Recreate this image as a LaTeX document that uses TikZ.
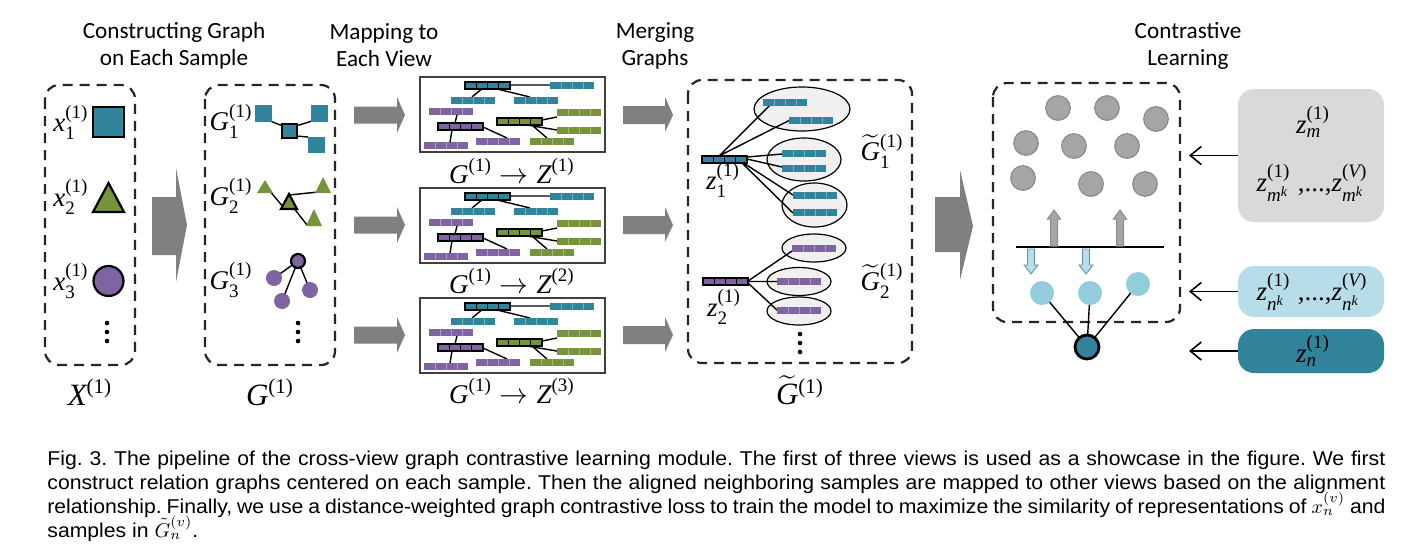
\documentclass[tikz,border=0pt]{standalone}
\usepackage{amsmath}
\usepackage{fontspec}
\usetikzlibrary{arrows.meta}
\newfontfamily\tnr{Liberation Serif}
\newfontfamily\capfont[FakeStretch=1.06]{Liberation Sans}
\newfontfamily\titlefont{Carlito}
\newcommand\vI[1]{\hbox{\tnr\itshape #1}}
\newcommand\sU[1]{\hbox{\tnr\fontsize{9.5}{9.5}\selectfont #1}}
\newcommand\sI[1]{\hbox{\tnr\itshape\fontsize{9.5}{9.5}\selectfont #1}}
\newcommand\ssI[1]{\hbox{\tnr\itshape\fontsize{7}{7}\selectfont #1}}
\newcommand\bU[1]{\hbox{\tnr\fontsize{10.5}{10.5}\selectfont #1}}
\definecolor{cteal}{HTML}{31849B}
\definecolor{cgreen}{HTML}{77933C}
\definecolor{cpurple}{HTML}{8064A2}
\definecolor{carrow}{HTML}{808080}
\definecolor{cgdot}{HTML}{A5A5A5}
\definecolor{cgdotb}{HTML}{8C8C8C}
\definecolor{clblue}{HTML}{92CDDC}
\definecolor{clbox}{HTML}{B7DEE8}
\definecolor{cgbox}{HTML}{D9D9D9}
\definecolor{cellp}{HTML}{F0F0F0}
\definecolor{cframe}{HTML}{404040}
\tikzset{
  panel/.style={draw=black!85, line width=1.1pt, dash pattern=on 5pt off 3.5pt, rounded corners=7pt},
  ttl/.style={font=\titlefont\fontsize{11.6}{13.5}\selectfont, align=center, inner sep=0pt},
  mlab/.style={font=\tnr\fontsize{13.5}{15}\selectfont, inner sep=0pt},
  blab/.style={font=\tnr\fontsize{15.5}{17}\selectfont, inner sep=0pt},
  fatarrow/.style={fill=carrow, draw=none},
  mapbox/.style={draw=cframe, line width=1.2pt, fill=white},
  lnk/.style={line width=0.7pt},
  shp/.style={draw=black, line width=1.1pt},
  ell/.style={draw=black, fill=cellp, line width=0.6pt},
  rbox/.style={draw=none, rounded corners=8pt, inner sep=0pt},
  larr/.style={line width=0.8pt, -{Straight Barb[length=5.5pt, width=9pt]}},
  capl/.style={font=\capfont\fontsize{10}{12}\selectfont\frenchspacing, inner sep=0pt, anchor=base west},
  pics/cbar/.style={code={
    \fill[#1] (0,0) rectangle (44,7);
    \foreach \i in {11,22,33} \draw[white, opacity=0.35, line width=0.3pt] (\i,0) -- (\i,7);
  }},
  pics/obar/.style={code={
    \draw[fill=#1, line width=0.6pt] (0,0) rectangle (45,7);
    \foreach \i in {11.25,22.5,33.75} \draw[line width=0.5pt] (\i,0) -- (\i,7);
  }},
  pics/mapc/.style={code={
    \draw[mapbox] (0,0) rectangle (185,75);
    \draw[lnk] (90,8) -- (130,8) (63,11) -- (52,20) (73,11) -- (110,20)
      (37,38) -- (35,46) (32,53) -- (30,65) (63,50) -- (87,61)
      (122,43) -- (137,40) (107,48) -- (137,53) (113,49) -- (127,61);
    \pic at (130,5) {cbar=cteal};
    \pic at (31,20) {cbar=cteal};
    \pic at (94,20) {cbar=cteal};
    \pic at (9,31) {cbar=cpurple};
    \pic at (4,65) {cbar=cpurple};
    \pic at (56,61) {cbar=cpurple};
    \pic at (137,32) {cbar=cgreen};
    \pic at (137,50) {cbar=cgreen};
    \pic at (110,61) {cbar=cgreen};
    \pic at (45,5) {obar=cteal};
    \pic at (18,46) {obar=cpurple};
    \pic at (77,41) {obar=cgreen};
  }},
}
\begin{document}
\begin{tikzpicture}[x=0.5pt,y=-0.5pt]
\useasboundingbox (0,0) rectangle (1416,559);
\fill[white] (0,0) rectangle (1416,559);

% ---------- titles ----------
\node[ttl] (t1) at (174,45.5) {Constructing Graph\\on Each Sample};
\node[ttl] (t2) at (384,45.5) {Mapping to\\Each View};
\node[ttl] (t3) at (655,45.5) {Merging\\Graphs};
\node[ttl] (t4) at (1188,45.5) {Contrastive\\Learning};

% ---------- panel 1 ----------
\draw[panel] (45,85) rectangle (135,365);
\node[mlab] (x1) at (71,122) {$\vI{x}_{\sU{1}}^{\sU{(1)}}$};
\node[mlab] (x2) at (71,197) {$\vI{x}_{\sU{2}}^{\sU{(1)}}$};
\node[mlab] (x3) at (71,281) {$\vI{x}_{\sU{3}}^{\sU{(1)}}$};
\draw[shp, fill=cteal] (93,107) rectangle (124,137);
\draw[shp, fill=cgreen] (93,212) -- (108.5,183) -- (124,212) -- cycle;
\draw[shp, fill=cpurple] (108.5,281) circle (15);
\foreach \yy in {323,332,341} \fill (107,\yy) circle (2.3);
\node[blab] (X1) at (90,392) {$\vI{X}^{\bU{(1)}}$};

% big arrow 1
\path[fatarrow] (152,197) -- (176,197) -- (176,168) -- (187,225) -- (176,282) -- (176,255) -- (152,255) -- cycle;

% ---------- panel 2 ----------
\draw[panel] (205,85) rectangle (335,365);
\node[mlab] (g1) at (231,121) {$\vI{G}_{\sU{1}}^{\sU{(1)}}$};
\node[mlab] (g2) at (231,196) {$\vI{G}_{\sU{2}}^{\sU{(1)}}$};
\node[mlab] (g3) at (231,280) {$\vI{G}_{\sU{3}}^{\sU{(1)}}$};
% G1 squares
\draw[lnk] (270,121) -- (283,126) (296,126) -- (312,121) (296,136) -- (308,137);
\fill[cteal] (255,105) rectangle (272,122);
\fill[cteal] (311,105) rectangle (328,122);
\fill[cteal] (308,137) rectangle (325,153);
\draw[shp, fill=cteal] (282,124) rectangle (297,138);
% G2 triangles
\draw[lnk] (269,190) -- (284,208) (289,195) -- (318,192) (293,207) -- (307,225);
\fill[cgreen] (257,193) -- (265,180) -- (273,193) -- cycle;
\fill[cgreen] (315,193) -- (323,177) -- (331,193) -- cycle;
\fill[cgreen] (306,226) -- (314,209) -- (322,226) -- cycle;
\draw[shp, fill=cgreen] (281,209) -- (289,194) -- (297,209) -- cycle;
% G3 circles
\draw[lnk] (298,261) -- (274,278) (298,261) -- (310,290) (298,261) -- (282,301);
\fill[cpurple] (274,278) circle (8);
\fill[cpurple] (310,290) circle (8);
\fill[cpurple] (282,301) circle (8);
\draw[shp, fill=cpurple] (298,261) circle (7);
\foreach \yy in {323,332,341} \fill (298,\yy) circle (2.3);
\node[blab] (G1) at (270,392) {$\vI{G}^{\bU{(1)}}$};

% mapping arrows
\foreach \ay in {115,225,335}
  \path[fatarrow] (354,\ay-8.5) -- (397,\ay-8.5) -- (397,\ay-18) -- (405,\ay) -- (397,\ay+18) -- (397,\ay+8.5) -- (354,\ay+8.5) -- cycle;

% ---------- mapping boxes ----------
\pic at (420,77) {mapc};
\pic at (420,188) {mapc};
\pic at (420,298) {mapc};
\node[mlab] (m1) at (512,171) {$\vI{G}^{\sU{(1)}}\rightarrow\vI{Z}^{\sU{(1)}}$};
\node[mlab] (m2) at (512,281) {$\vI{G}^{\sU{(1)}}\rightarrow\vI{Z}^{\sU{(2)}}$};
\node[mlab] (m3) at (512,391) {$\vI{G}^{\sU{(1)}}\rightarrow\vI{Z}^{\sU{(3)}}$};

% merging arrows
\foreach \ay in {115,225,335}
  \path[fatarrow] (623,\ay-9) -- (665,\ay-9) -- (665,\ay-18) -- (673,\ay) -- (665,\ay+17) -- (665,\ay+9) -- (623,\ay+9) -- cycle;

% ---------- merged panel ----------
\draw[panel] (688,80) rectangle (912,363);
\draw[ell] (802,109) ellipse [x radius=48, y radius=22];
\draw[ell] (804,159.5) ellipse [x radius=37, y radius=21.5];
\draw[ell] (814.5,205) ellipse [x radius=32.5, y radius=22];
\draw[ell] (814,248) ellipse [x radius=32, y radius=14];
\draw[ell] (799,281.5) ellipse [x radius=32, y radius=14];
\draw[ell] (799,311) ellipse [x radius=32, y radius=14];
\draw[lnk] (719,156) -- (770,105) (719,156) -- (790,120)
  (747,157) -- (782,154) (747,159) -- (782,167)
  (742,162) -- (793,195) (742,163) -- (793,213);
\draw[lnk] (748,281) -- (792,251) (748,281.5) -- (777,281.5) (748,283) -- (777,310);
\pic at (763,99) {cbar=cteal};
\pic at (789,117) {cbar=cteal};
\pic at (782,150) {cbar=cteal};
\pic at (782,165) {cbar=cteal};
\pic at (793,192) {cbar=cteal};
\pic at (793,209) {cbar=cteal};
\pic at (792,245) {cbar=cpurple};
\pic at (777,278) {cbar=cpurple};
\pic at (777,307) {cbar=cpurple};
\pic at (702,156) {obar=cteal};
\pic at (703,278) {obar=cpurple};
\node[mlab] (z1) at (723,180) {$\vI{z}_{\sU{1}}^{\sU{(1)}}$};
\node[mlab] (z2) at (724,307) {$\vI{z}_{\sU{2}}^{\sU{(1)}}$};
\node[mlab] (tg1) at (882,151) {$\widetilde{\vI{G}}{}_{\sU{1}}^{\sU{(1)}}$};
\node[mlab] (tg2) at (882,281) {$\widetilde{\vI{G}}{}_{\sU{2}}^{\sU{(1)}}$};
\foreach \yy in {334,343,352} \fill (800,\yy) circle (2.3);
\node[blab] (tG) at (800,390) {$\widetilde{\vI{G}}{}^{\bU{(1)}}$};

% big arrow 2
\path[fatarrow] (935,197) -- (960,197) -- (960,170) -- (973,226) -- (960,280) -- (960,252) -- (935,252) -- cycle;

% ---------- contrastive panel ----------
\draw[panel] (993,83) rectangle (1180,322);
\foreach \cx/\cy in {1058/108,1107/108,1156/119,1026/143,1074/146,1127/146,1023/178,1091/184,1145/184}
  \draw[fill=cgdot, draw=cgdotb, line width=0.6pt] (\cx,\cy) circle (12.3);
\draw[line width=1pt] (1016,247) -- (1164,247);
\foreach \ux in {1054,1120}
  \draw[fill=cgdot, draw=cgdotb, line width=0.5pt] (\ux-3.5,246) -- (\ux-3.5,219) -- (\ux-6.5,219) -- (\ux,210) -- (\ux+6.5,219) -- (\ux+3.5,219) -- (\ux+3.5,246) -- cycle;
\foreach \dx in {1031,1086}
  \draw[fill=clbox, draw=clblue!70!black, line width=0.4pt] (\dx-3.5,249) -- (\dx-3.5,265) -- (\dx-7,265) -- (\dx,274) -- (\dx+7,265) -- (\dx+3.5,265) -- (\dx+3.5,249) -- cycle;
\draw[lnk] (1087,347) -- (1042,293) (1087,347) -- (1090,293) (1087,347) -- (1138,284);
\fill[clblue] (1042,293) circle (12);
\fill[clblue] (1090,293) circle (12);
\fill[clblue] (1138,284) circle (12);
\draw[fill=cteal, draw=black, line width=1.4pt] (1087,347) circle (12);

% ---------- right boxes ----------
\node[rbox, fill=cgbox, minimum width=73pt, minimum height=66.5pt] (gbox) at (1311,155.5) {};
\node[rbox, fill=clbox, minimum width=73pt, minimum height=25.5pt] (lbox) at (1311,291.5) {};
\node[rbox, fill=cteal, minimum width=73pt, minimum height=22pt] (dbox) at (1311,351) {};
\node[mlab] (zm) at (1313,122) {$\vI{z}_{\sI{m}}^{\sU{(1)}}$};
\node[mlab] (zmk) at (1312,183) {$\vI{z}_{\sI{m}^{\ssI{k}}}^{\sU{(1)}}\hbox{\;,...,}\vI{z}_{\sI{m}^{\ssI{k}}}^{\sU{(}\sI{V}\sU{)}}$};
\node[mlab] (znk) at (1312,292) {$\vI{z}_{\sI{n}^{\ssI{k}}}^{\sU{(1)}}\hbox{\;,...,}\vI{z}_{\sI{n}^{\ssI{k}}}^{\sU{(}\sI{V}\sU{)}}$};
\node[mlab] (zn) at (1313,351) {$\vI{z}_{\sI{n}}^{\sU{(1)}}$};
\coordinate (ga) at (1189,155.5);
\coordinate (la) at (1189,291.5);
\coordinate (da) at (1189,351);
\draw[larr] (gbox.west) -- (ga);
\draw[larr] (lbox.west) -- (la);
\draw[larr] (dbox.west) -- (da);

% ---------- caption ----------
\node[capl] (c1) at (47,465) {\makebox[669pt][s]{Fig. 3. The pipeline of the cross-view graph contrastive learning module. The first of three views is used as a showcase in the figure. We first}};
\node[capl] (c2) at (47,489) {\makebox[669pt][s]{construct relation graphs centered on each sample. Then the aligned neighboring samples are mapped to other views based on the alignment}};
\node[capl] (c3) at (47,513) {\makebox[669pt][s]{relationship. Finally, we use a distance-weighted graph contrastive loss to train the model to maximize the similarity of representations of $x_n^{(v)}$ and}};
\node[capl] (c4) at (47,537) {samples in $\tilde{G}_n^{(v)}$.};
\end{tikzpicture}
\end{document}
